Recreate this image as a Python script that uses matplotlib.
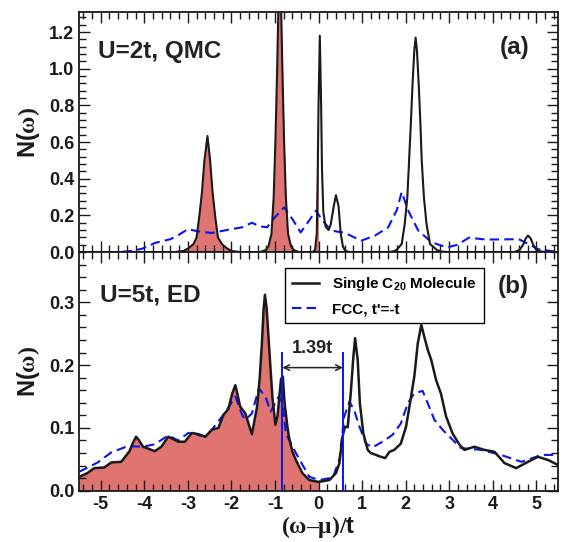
#Density of states N(w) of a single C20 molecule vs FCC lattice
#Top: U=2t QMC, bottom: U=5t ED

import matplotlib.pyplot as plt
import numpy as np

plt.rcParams['font.family'] = ['Liberation Sans', 'DejaVu Sans']
plt.rcParams['font.weight'] = 'bold'
plt.rcParams['axes.unicode_minus'] = False
plt.rcParams['mathtext.fontset'] = 'custom'
plt.rcParams['mathtext.rm'] = 'Liberation Serif'
plt.rcParams['mathtext.it'] = 'Liberation Serif:italic'
plt.rcParams['mathtext.bf'] = 'Liberation Sans:bold'

#Panel (a): single molecule, QMC
w_mol_a = [-5.5, -3.3, -3.1, -2.99, -2.87, -2.80, -2.74, -2.68, -2.62, -2.55, -2.49, -2.43,
           -2.37, -2.31, -2.22, -2.10, -2.0, -1.8, -1.35, -1.22, -1.15, -1.08, -1.03, -0.99,
           -0.95, -0.92, -0.89, -0.86, -0.83, -0.79, -0.75, -0.70, -0.63, -0.56, -0.45,
           -0.14, -0.08, -0.04, -0.02, 0.0, 0.03, 0.06, 0.08, 0.11, 0.16, 0.23, 0.28, 0.35,
           0.40, 0.46, 0.51, 0.56, 0.61, 0.7, 1.6, 1.72, 1.79, 1.91, 1.98, 2.04, 2.08, 2.12,
           2.16, 2.20, 2.23, 2.26, 2.30, 2.34, 2.37, 2.42, 2.48, 2.56, 2.72, 2.82, 2.95,
           4.5, 4.62, 4.7, 4.76, 4.81, 4.87, 4.93, 5.0, 5.12, 5.5]
n_mol_a = [0.0, 0.0, 0.006, 0.02, 0.044, 0.08, 0.19, 0.318, 0.50, 0.633, 0.50, 0.318,
           0.19, 0.08, 0.044, 0.02, 0.006, 0.0, 0.0, 0.01, 0.03, 0.1, 0.3, 0.6,
           1.0, 1.35, 1.55, 1.35, 1.0, 0.6, 0.3, 0.1, 0.03, 0.01, 0.0,
           0.0, 0.01, 0.1, 0.4, 0.8, 1.18, 0.8, 0.45, 0.22, 0.14, 0.12, 0.15, 0.25,
           0.31, 0.25, 0.1, 0.03, 0.008, 0.0, 0.0, 0.004, 0.011, 0.044, 0.153, 0.30, 0.50, 0.70,
           0.92, 1.10, 1.17, 1.10, 0.92, 0.70, 0.50, 0.30, 0.153, 0.044, 0.011, 0.003, 0.0,
           0.0, 0.012, 0.04, 0.075, 0.09, 0.075, 0.04, 0.012, 0.002, 0.0]
#Panel (a): FCC lattice
w_fcc_a = [-5.5, -4.6, -4.3, -4.05, -3.75, -3.4, -3.2, -3.0, -2.75, -2.45, -2.0, -1.75,
           -1.53, -1.35, -1.18, -1.0, -0.79, -0.6, -0.41, -0.25, -0.06, 0.1, 0.29, 0.6,
           0.98, 1.3, 1.6, 1.8, 1.91, 2.06, 2.29, 2.6, 2.95, 3.2, 3.45, 3.85, 4.6, 4.85,
           5.05, 5.5]
n_fcc_a = [0.0, 0.0, 0.006, 0.018, 0.05, 0.07, 0.095, 0.125, 0.112, 0.104, 0.125, 0.135,
           0.16, 0.14, 0.135, 0.19, 0.244, 0.18, 0.107, 0.16, 0.226, 0.17, 0.117, 0.105,
           0.062, 0.09, 0.135, 0.23, 0.327, 0.226, 0.117, 0.053, 0.025, 0.04, 0.078, 0.068,
           0.07, 0.04, 0.015, 0.0]

#Panel (b): single molecule, ED
w_mol_b = [-5.5, -5.31, -5.15, -4.92, -4.76, -4.53, -4.34, -4.25, -4.19, -4.12, -4.03, -3.76,
           -3.61, -3.45, -3.22, -3.07, -2.91, -2.76, -2.60, -2.45, -2.30, -2.18, -2.07,
           -1.98, -1.91, -1.85, -1.80, -1.68, -1.53, -1.41, -1.35, -1.30, -1.26, -1.23,
           -1.19, -1.14, -1.06, -0.99, -0.94, -0.90, -0.86, -0.82, -0.78, -0.72, -0.68,
           -0.60, -0.52, -0.37, -0.21, 0.0, 0.25, 0.40, 0.48, 0.55, 0.61, 0.67, 0.74, 0.80,
           0.84, 0.90, 0.95, 1.03, 1.13, 1.20, 1.32, 1.43, 1.53, 1.63, 1.74, 1.89, 2.01,
           2.10, 2.20, 2.28, 2.36, 2.43, 2.51, 2.59, 2.70, 2.81, 2.93, 3.08, 3.24, 3.35,
           3.58, 3.81, 4.04, 4.27, 4.54, 4.81, 5.04, 5.27, 5.5]
n_mol_b = [0.022, 0.028, 0.036, 0.037, 0.045, 0.046, 0.063, 0.078, 0.086, 0.080, 0.070, 0.063,
           0.070, 0.086, 0.078, 0.078, 0.092, 0.090, 0.086, 0.097, 0.100, 0.121, 0.130,
           0.155, 0.168, 0.150, 0.134, 0.123, 0.090, 0.134, 0.18, 0.235, 0.29, 0.312,
           0.29, 0.235, 0.150, 0.105, 0.12, 0.15, 0.178, 0.182, 0.14, 0.105, 0.086,
           0.062, 0.049, 0.028, 0.017, 0.014, 0.017, 0.028, 0.044, 0.086, 0.102, 0.101, 0.155,
           0.213, 0.243, 0.208, 0.139, 0.091, 0.065, 0.060, 0.057, 0.054, 0.052, 0.062, 0.065,
           0.075, 0.102, 0.139, 0.182, 0.235, 0.264, 0.245, 0.224, 0.208, 0.176, 0.155,
           0.118, 0.091, 0.073, 0.065, 0.070, 0.065, 0.062, 0.044, 0.036, 0.046, 0.054,
           0.049, 0.041]
#Panel (b): FCC lattice
w_fcc_b = [-5.5, -5.07, -4.76, -4.38, -4.03, -3.76, -3.45, -3.22, -2.99, -2.60, -2.45,
           -2.15, -1.91, -1.75, -1.68, -1.53, -1.37, -1.22, -1.10, -0.91, -0.83, -0.75,
           -0.52, -0.21, 0.02, 0.33, 0.48, 0.59, 0.71, 0.82, 0.94, 1.09, 1.24, 1.47, 1.70,
           1.89, 2.05, 2.20, 2.39, 2.51, 2.66, 2.85, 3.08, 3.27, 3.73, 4.19, 4.66, 5.12, 5.5]
n_fcc_b = [0.030, 0.045, 0.061, 0.071, 0.070, 0.074, 0.088, 0.080, 0.092, 0.086, 0.097,
           0.124, 0.150, 0.12, 0.113, 0.123, 0.163, 0.150, 0.126, 0.150, 0.14, 0.091,
           0.060, 0.022, 0.017, 0.021, 0.05, 0.118, 0.142, 0.128, 0.102, 0.075, 0.069,
           0.078, 0.089, 0.107, 0.139, 0.155, 0.159, 0.139, 0.113, 0.097, 0.081, 0.068,
           0.065, 0.057, 0.046, 0.057, 0.057]

#Gap markers in panel (b)
gap_edges = [-0.83, 0.56]
gap_top = 0.22
gap_label = '1.39t'

fill_color = '#df7471'
blue = '#0a14f0'
ink = '#1a1a1a'

fig = plt.figure(figsize=(5.66, 5.42), dpi=100)
ax1 = fig.add_axes([0.1396, 0.535, 0.8463, 0.443])
ax2 = fig.add_axes([0.1396, 0.0946, 0.8463, 0.4404], sharex=ax1)

def style(ax):
    ax.set_xlim(-5.5, 5.5)
    ax.xaxis.set_major_locator(plt.MultipleLocator(1))
    ax.xaxis.set_minor_locator(plt.MultipleLocator(0.2))
    ax.tick_params(which='both', direction='in', top=True, right=True, width=1.0,
                   labelsize=13, colors=ink)
    ax.tick_params(which='major', length=8)
    ax.tick_params(which='minor', length=5)
    for s in ax.spines.values():
        s.set_linewidth(1.3)
        s.set_color(ink)
    for lab in ax.get_xticklabels() + ax.get_yticklabels():
        lab.set_fontweight('bold')
    ax.set_ylabel(r'$\mathbf{N(}\mathrm{ω)}$', fontsize=17, labelpad=5, color=ink)

#Panel (a)
wa = np.array(w_mol_a)
na = np.array(n_mol_a)
ax1.fill_between(wa, na, where=wa <= 0, color=fill_color, lw=0, zorder=1)
ax1.plot(w_fcc_a, n_fcc_a, color=blue, lw=1.5, dashes=(4.5, 2.5), zorder=2)
ax1.plot(wa, na, color=ink, lw=1.5, zorder=3)
ax1.set_ylim(0, 1.31)
ax1.yaxis.set_major_locator(plt.MultipleLocator(0.2))
ax1.yaxis.set_minor_locator(plt.MultipleLocator(0.04))
style(ax1)
plt.setp(ax1.get_xticklabels(), visible=False)
ax1.text(0.04, 0.835, 'U=2t, QMC', transform=ax1.transAxes, fontsize=17.5,
         fontweight='bold', va='center', color='#222222')
ax1.text(0.94, 0.85, '(a)', transform=ax1.transAxes, fontsize=17.5,
         fontweight='bold', va='center', ha='right', color='#222222')

#Panel (b)
wb = np.array(w_mol_b)
nb = np.array(n_mol_b)
ax2.fill_between(wb, nb, where=wb <= 0, color=fill_color, lw=0, zorder=1)
ax2.plot(w_fcc_b, n_fcc_b, color=blue, lw=1.5, dashes=(4.5, 2.5), zorder=2,
         label="FCC, t'=-t")
ax2.plot(wb, nb, color=ink, lw=1.8, zorder=3, label=r'Single C$_{\mathbf{20}}$ Molecule')
for g in gap_edges:
    ax2.plot([g, g], [0, gap_top], color=blue, lw=1.4, zorder=4)
ax2.annotate('', xy=(gap_edges[0], 0.196), xytext=(gap_edges[1], 0.196),
             arrowprops=dict(arrowstyle='<->', color='#222222', lw=1.1,
                             shrinkA=0, shrinkB=0))
ax2.text(sum(gap_edges) / 2, 0.226, gap_label, ha='center', va='center',
         fontsize=13, fontweight='bold', color='#222222')
ax2.set_ylim(0, 0.38)
ax2.yaxis.set_major_locator(plt.MultipleLocator(0.1))
ax2.yaxis.set_minor_locator(plt.MultipleLocator(0.02))
style(ax2)
ax2.set_xlabel(r'$\mathrm{(ω–μ)/}\mathbf{t}$', fontsize=17, labelpad=1, color=ink)
ax2.text(0.044, 0.82, 'U=5t, ED', transform=ax2.transAxes, fontsize=17.5,
         fontweight='bold', va='center', color='#222222')
ax2.text(0.94, 0.855, '(b)', transform=ax2.transAxes, fontsize=17.5,
         fontweight='bold', va='center', ha='right', color='#222222')

h, l = ax2.get_legend_handles_labels()
leg = ax2.legend(h[::-1], l[::-1], loc='upper left', bbox_to_anchor=(0.43, 0.933),
                 borderaxespad=0, fancybox=False, edgecolor='black', framealpha=1,
                 prop={'weight': 'bold', 'size': 11}, handlelength=1.8,
                 handletextpad=0.85, borderpad=0.45, labelspacing=0.6)
leg.get_frame().set_linewidth(1.0)

fig.savefig('out.png', dpi=100)
